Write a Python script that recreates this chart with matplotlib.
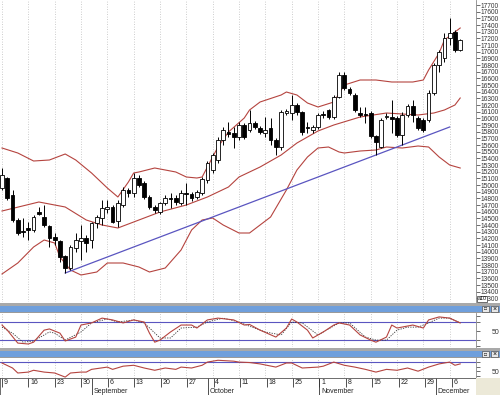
import numpy as np
import pandas as pd
import matplotlib
matplotlib.use("Agg")
from matplotlib import pyplot as plt
from matplotlib.patches import Rectangle

plt.rcParams["font.family"] = ["Liberation Sans", "DejaVu Sans"]

# daily candles, 9 Aug .. 8 Dec
open_ = [14955, 15105, 14850, 14475, 14310, 14355, 14325, 14595, 14520, 14385,
         14220, 14160, 13935, 13755, 14055, 14160, 14205, 14175, 14430, 14505,
         14640, 14670, 14460, 14700, 14925, 14880, 15105, 15030, 14820, 14670,
         14595, 14730, 14800, 14805, 14730, 14880, 14865, 14820, 14880, 15075,
         15225, 15375, 15675, 15795, 15780, 15720, 15900, 15825, 15930, 15855,
         15780, 15855, 15675, 15570, 16080, 16080, 16200, 16095, 15870, 15825,
         15870, 16060, 16125, 16020, 16320, 16650, 16440, 16350, 16080, 16060,
         16080, 15735, 15570, 16020, 16020, 16005, 15750, 16050, 16185, 16005,
         15975, 15975, 16380, 16800, 16905, 17205, 17295, 17025]
close = [15150, 14805, 14475, 14280, 14295, 14325, 14520, 14565, 14400, 14205,
         14175, 13920, 13755, 14070, 14175, 14205, 14130, 14430, 14520, 14655,
         14670, 14445, 14730, 14925, 14880, 15105, 15000, 14820, 14670, 14625,
         14730, 14805, 14785, 14745, 14880, 14870, 14805, 14895, 15090, 15330,
         15450, 15675, 15825, 15765, 15720, 15900, 15720, 15930, 15870, 15795,
         15825, 15675, 15570, 16095, 16110, 16200, 16095, 15795, 15855, 15870,
         16050, 16050, 16020, 16320, 16650, 16455, 16380, 16125, 16050, 16050,
         15735, 15645, 15975, 16035, 15990, 15750, 16050, 16185, 16050, 15855,
         15825, 16380, 16800, 16995, 17205, 17280, 17025, 17175]
high = [15255, 15120, 14925, 14505, 14505, 14445, 14550, 14670, 14700, 14400,
        14280, 14175, 13950, 14100, 14280, 14400, 14250, 14445, 14550, 14775,
        14775, 14700, 14775, 14970, 14955, 15180, 15150, 15060, 14850, 14700,
        14745, 14850, 14880, 14850, 14925, 15030, 14895, 14925, 15120, 15360,
        15480, 15720, 15870, 15945, 15870, 15945, 15930, 16125, 15960, 15885,
        16020, 16005, 15705, 16125, 16140, 16350, 16230, 16110, 15945, 15900,
        16080, 16110, 16140, 16350, 16695, 16695, 16470, 16380, 16170, 16170,
        16110, 15750, 16005, 16080, 16275, 16035, 16095, 16215, 16275, 16035,
        16005, 16425, 16830, 17025, 17280, 17505, 17325, 17190]
low = [14925, 14775, 14445, 14250, 14220, 14175, 14295, 14550, 14370, 14070,
       14100, 13845, 13680, 13725, 13995, 13875, 13995, 14055, 14355, 14400,
       14580, 14430, 14370, 14670, 14820, 14820, 14970, 14790, 14640, 14580,
       14565, 14700, 14655, 14700, 14700, 14700, 14760, 14790, 14850, 15030,
       15180, 15330, 15600, 15720, 15555, 15675, 15690, 15795, 15840, 15765,
       15720, 15600, 15450, 15525, 16050, 15975, 16050, 15750, 15780, 15780,
       15840, 16000, 15990, 15990, 16305, 16425, 16350, 16095, 16020, 15930,
       15705, 15450, 15555, 15990, 15780, 15720, 15600, 16020, 15945, 15825,
       15795, 15945, 16350, 16695, 16845, 17100, 16995, 17010]

# bollinger bands
upper_idx = [0, 3, 6, 9, 12, 14, 17, 20, 22, 24, 25, 26, 29, 30, 33, 35, 37, 38, 39, 41,
             43, 46, 47, 49, 53, 54, 56, 58, 60, 63, 65, 68, 71, 74, 78, 80, 81, 83, 84, 86, 87]
upper_val = [15555, 15480, 15360, 15375, 15465, 15375, 15180, 14955, 14820, 15045, 15180,
             15195, 15255, 15240, 15195, 15120, 15105, 15120, 15270, 15570, 15795, 16005,
             16125, 16245, 16350, 16395, 16350, 16230, 16170, 16245, 16500, 16575, 16575,
             16545, 16545, 16575, 16725, 16980, 17175, 17295, 17355]
mid_idx = [0, 7, 12, 16, 19, 22, 25, 30, 35, 39, 43, 45, 49, 53, 56, 60, 63, 68, 73, 79,
           82, 84, 86, 87]
mid_val = [14610, 14745, 14670, 14475, 14400, 14355, 14445, 14595, 14700, 14820, 14970,
           15120, 15270, 15450, 15630, 15810, 15900, 16020, 16080, 16050, 16080, 16125,
           16200, 16305]
lower_idx = [0, 3, 6, 8, 10, 11, 13, 15, 18, 20, 23, 26, 28, 31, 34, 36, 38, 40, 42, 45,
             47, 51, 54, 56, 58, 60, 62, 64, 65, 68, 71, 73, 76, 79, 81, 83, 85, 87]
lower_val = [13665, 13830, 14070, 14175, 14130, 13920, 13725, 13650, 13695, 13830, 13830,
             13770, 13695, 13755, 14025, 14325, 14475, 14505, 14400, 14280, 14280, 14520,
             14925, 15225, 15420, 15555, 15570, 15495, 15480, 15510, 15525, 15570, 15555,
             15585, 15570, 15420, 15300, 15255]

trend_idx = [12, 85]
trend_val = [13680, 15870]

# stochastic (%K solid, %D dashed) and RSI
stk_idx = [0, 1, 3, 5, 6, 8, 9, 11, 12, 14, 15, 17, 19, 21, 23, 25, 27, 28, 29, 30, 32, 34,
           36, 37, 39, 41, 44, 46, 47, 49, 52, 54, 55, 56, 58, 59, 61, 63, 64, 66, 68, 70,
           71, 73, 74, 75, 78, 80, 81, 83, 85, 87]
stk_val = [70, 53, 10, 7, 13, 53, 57, 43, 17, 30, 70, 77, 93, 87, 77, 87, 80, 43, 13, 20, 47,
           70, 70, 60, 87, 93, 87, 70, 72, 53, 30, 60, 90, 80, 53, 27, 47, 70, 77, 70, 37,
           20, 13, 30, 70, 60, 70, 60, 87, 97, 93, 77]
std_idx = [0, 2, 4, 6, 9, 10, 12, 15, 17, 20, 22, 25, 27, 30, 32, 34, 37, 39, 42, 45, 47, 50,
           53, 55, 57, 60, 61, 64, 66, 69, 71, 73, 75, 77, 79, 81, 83, 85, 87]
std_val = [63, 43, 13, 17, 47, 43, 20, 47, 77, 90, 80, 87, 77, 27, 27, 60, 63, 80, 93, 80, 66,
           47, 37, 80, 77, 37, 47, 77, 77, 30, 20, 20, 53, 63, 63, 77, 93, 93, 77]
rsi_idx = [0, 2, 3, 5, 6, 8, 10, 12, 13, 15, 16, 17, 20, 21, 23, 25, 27, 29, 31, 33, 34, 36,
           38, 39, 41, 44, 45, 47, 49, 52, 54, 55, 57, 60, 61, 63, 65, 67, 69, 71, 73, 75,
           77, 79, 81, 83, 85, 86, 87]
rsi_val = [68, 57, 46, 48, 52, 48, 46, 37, 46, 48, 48, 54, 59, 54, 61, 63, 57, 52, 57, 54, 59,
           57, 63, 70, 74, 72, 70, 69, 66, 59, 68, 68, 57, 59, 61, 70, 63, 59, 54, 48, 54, 52,
           57, 50, 59, 66, 70, 63, 66]

W, H = 500, 395
RED = "#b5443f"
PURPLE = "#5a55c0"


def box(top, bottom, left=0, right=476):
    return [left / W, 1 - bottom / H, (right - left) / W, (bottom - top) / H]


open_, close, high, low = map(np.array, (open_, close, high, low))
n = len(close)
x = np.arange(n)
xlim = (-0.38, 89.6)

days = pd.bdate_range("2010-08-09", periods=91)
mondays = [i for i, d in enumerate(days) if d.weekday() == 0]
month_starts = [i for i in range(1, len(days)) if days[i].month != days[i - 1].month]

fig = plt.figure(figsize=(W / 100, H / 100), dpi=100)
fig.patch.set_facecolor("white")


def style_panel(ax):
    ax.set_xlim(*xlim)
    ax.set_xticks(mondays)
    ax.tick_params(axis="x", length=0, labelbottom=False)
    ax.grid(axis="x", ls=(0, (1, 2)), color="#bdbdbd", lw=0.6)
    ax.yaxis.tick_right()
    ax.tick_params(axis="y", length=3, width=0.5, pad=0.5, labelsize=5, colors="#333333")
    for s in ("top", "left", "bottom"):
        ax.spines[s].set_visible(False)
    ax.spines["right"].set_color("#888888")
    ax.spines["right"].set_linewidth(0.6)


# main price panel
ax = fig.add_axes(box(0, 302))
style_panel(ax)
ax.set_ylim(13245, 17775)
ax.set_yticks(np.arange(13300, 17701, 100))
ax.set_yticklabels([str(v) for v in range(13300, 17701, 100)])
ax.tick_params(axis="y", labelsize=4.8)

ax.plot(upper_idx, upper_val, color=RED, lw=0.8, zorder=2)
ax.plot(mid_idx, mid_val, color=RED, lw=0.8, zorder=2)
ax.plot(lower_idx, lower_val, color=RED, lw=0.8, zorder=2)
ax.plot(trend_idx, trend_val, color=PURPLE, lw=0.9, zorder=2)

up = close >= open_
ax.vlines(x, low, high, color="black", lw=0.7, zorder=3)
body_bottom = np.minimum(open_, close)
body_h = np.maximum(np.abs(close - open_), 12)
ax.bar(x, body_h, bottom=body_bottom, width=0.72,
       color=np.where(up, "white", "black"), edgecolor="black", linewidth=0.6, zorder=4)

# stochastic panel
ax_s = fig.add_axes(box(313, 347))
style_panel(ax_s)
ax_s.set_ylim(-3, 110)
ax_s.set_yticks([0, 20, 50, 80, 100])
ax_s.set_yticklabels(["", "", "50", "", ""])
ax_s.tick_params(axis="y", pad=8)
ax_s.axhline(80, color=PURPLE, lw=0.8)
ax_s.axhline(20, color=PURPLE, lw=0.8)
ax_s.plot(std_idx, std_val, color="#333333", lw=0.6, ls=(0, (1.5, 1.5)))
ax_s.plot(stk_idx, stk_val, color=RED, lw=0.8)

# RSI panel
ax_r = fig.add_axes(box(358, 378))
style_panel(ax_r)
ax_r.set_ylim(35, 79)
ax_r.set_yticks([40, 50, 60, 70])
ax_r.set_yticklabels(["", "50", "", ""])
ax_r.tick_params(axis="y", pad=8)
ax_r.axhline(70, color=PURPLE, lw=0.8)
ax_r.plot(rsi_idx, rsi_val, color=RED, lw=0.8)

# date axis
ax_d = fig.add_axes(box(378, 395))
ax_d.set_xlim(*xlim)
ax_d.set_ylim(0, 1)
ax_d.set_xticks([])
ax_d.set_yticks([])
for s in ax_d.spines.values():
    s.set_color("#555555")
    s.set_linewidth(0.6)
for i in mondays:
    ax_d.vlines(i, 0.45, 1, color="#333333", lw=0.6)
    ax_d.text(i + 0.3, 0.72, str(days[i].day), fontsize=5, va="center", ha="left",
              color="#222222", clip_on=True)
for i in month_starts:
    ax_d.vlines(i, 0, 1, color="#333333", lw=0.6)
    ax_d.text(i + 0.3, 0.2, days[i].strftime("%B"), fontsize=5, va="center", ha="left",
              color="#222222", clip_on=True)


# window chrome: title bars of the indicator panes and corner
def rect(left, top, right, bottom, color):
    fig.patches.append(Rectangle((left / W, 1 - bottom / H), (right - left) / W,
                                 (bottom - top) / H, transform=fig.transFigure,
                                 facecolor=color, edgecolor="none", zorder=5))


for top in (303, 348):
    rect(0, top, 500, top + 2.5, "#a9a9a9")
    rect(0, top + 2.5, 500, top + 9, "#6f9fdc")
    rect(0, top + 9, 500, top + 10, "#9a9a9a")
    for bx in (482, 491):
        fig.patches.append(Rectangle((bx / W, 1 - (top + 9) / H), 7 / W, 6 / H,
                                     transform=fig.transFigure, facecolor="#e8e8e8",
                                     edgecolor="#555555", linewidth=0.5, zorder=6))
    fig.text(485.5 / W, 1 - (top + 6) / H, "\u25a1", fontsize=3.5, ha="center",
             va="center", zorder=7)
    fig.text(494.5 / W, 1 - (top + 6) / H, "\u00d7", fontsize=5, ha="center",
             va="center", zorder=7)
rect(476, 378, 500, 395, "#ece9d8")
fig.text(477.5 / W, 1 - 299 / H, "a10", fontsize=3.8, ha="left", va="center", zorder=8,
         bbox=dict(boxstyle="square,pad=0.1", fc="white", ec="#333333", lw=0.5))

fig.savefig("out.png", dpi=100)
